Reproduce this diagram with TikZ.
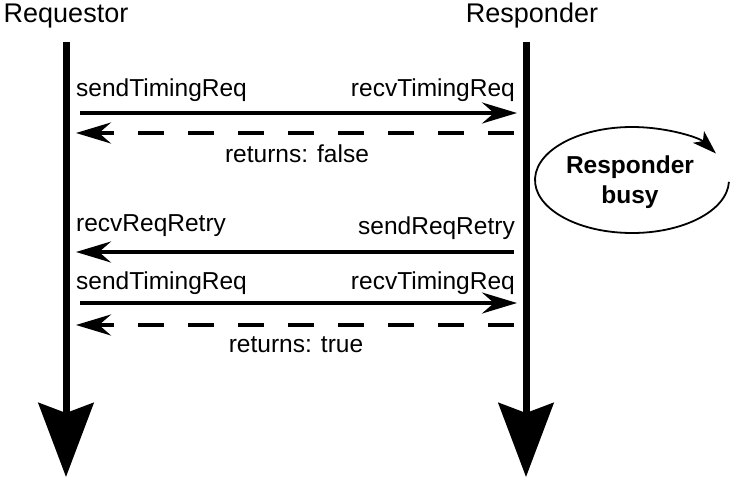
\documentclass[tikz,border=0pt]{standalone}
\usepackage{fontspec}
\setmainfont{Liberation Sans}
\usetikzlibrary{arrows.meta}
\tikzset{
	title/.style={font=\fontsize{27}{30}\selectfont, inner sep=0pt},
	lbl/.style={font=\fontsize{24.5}{28}\selectfont, inner sep=0pt},
	busylbl/.style={font=\fontsize{24.5}{30}\selectfont\bfseries, inner sep=0pt, align=center},
	lifeline/.style={line width=7pt, -{Stealth[length=74pt, width=55pt, inset=10pt]}},
	msg/.style={line width=3.5pt, -{Stealth[length=35pt, width=21pt, inset=12pt]}},
	reply/.style={msg, dash pattern=on 26pt off 24pt},
	busyloop/.style={line width=1.8pt, -{Stealth[length=24pt, width=16pt, inset=6pt]}},
}

\begin{document}
\begin{tikzpicture}[x=1pt, y=-1pt]
			%%%%% START %%%%%
			\useasboundingbox (0, 0) rectangle (731, 477);
			
			\node[title, anchor=base] (req) at (66, 22) {Requestor};
			\node[title, anchor=base] (resp) at (532, 22) {Responder};
			
			\coordinate (reqtop) at (66, 42);
			\coordinate (reqend) at (66, 477);
			\coordinate (resptop) at (526, 42);
			\coordinate (respend) at (526, 477);
			\draw[lifeline] (reqtop) -- (reqend);
			\draw[lifeline] (resptop) -- (respend);
			
			% first try
			\coordinate (reqA) at (80, 113);
			\coordinate (respA) at (517, 113);
			\coordinate (reqB) at (76, 133);
			\coordinate (respB) at (514, 133);
			\node[lbl, anchor=base west] (sendA) at (76, 96) {sendTimingReq};
			\node[lbl, anchor=base east] (recvA) at (515, 96) {recvTimingReq};
			\draw[msg] (reqA) -- (respA);
			\draw[reply] (respB) -- (reqB);
			\node[lbl, anchor=base] (retfalse) at (297, 162) {returns: false};
			
			% busy
			\coordinate (busyc) at (632, 180);
			\draw[busyloop] ([shift={(2:97 and 53)}]busyc) arc[start angle=2, end angle=330, x radius=97, y radius=53];
			\node[busylbl] (busy) at (630, 182) {Responder\\busy};
			
			% retry
			\coordinate (reqC) at (76, 252);
			\coordinate (respC) at (514, 252);
			\node[lbl, anchor=base west] (recvretry) at (76, 231) {recvReqRetry};
			\node[lbl, anchor=base east] (sendretry) at (515, 234) {sendReqRetry};
			\draw[msg] (respC) -- (reqC);
			
			% second try
			\coordinate (reqD) at (80, 303);
			\coordinate (respD) at (517, 303);
			\coordinate (reqE) at (76, 325);
			\coordinate (respE) at (514, 325);
			\node[lbl, anchor=base west] (sendB) at (76, 289) {sendTimingReq};
			\node[lbl, anchor=base east] (recvB) at (515, 289) {recvTimingReq};
			\draw[msg] (reqD) -- (respD);
			\draw[reply] (respE) -- (reqE);
			\node[lbl, anchor=base] (rettrue) at (296, 352) {returns: true};
			
			%%%%% END %%%%%
\end{tikzpicture}
\end{document}
